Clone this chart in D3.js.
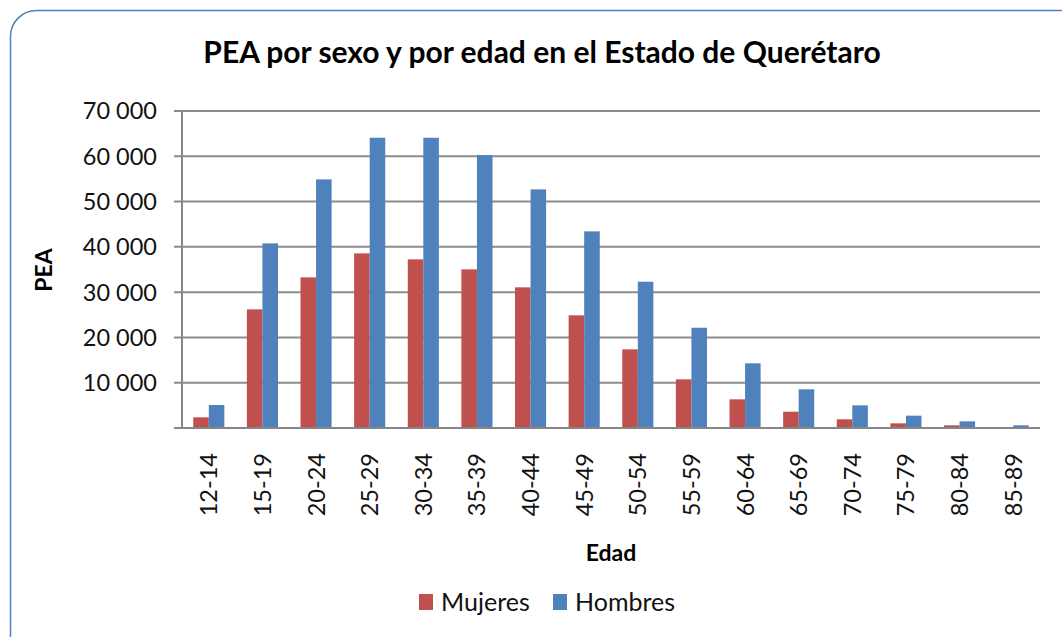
<!DOCTYPE html>
<html>
<head>
<meta charset="utf-8">
<script src="https://cdn.jsdelivr.net/npm/d3@7"></script>
<style>
  body { margin: 0; background: #fff; }
  svg { display: block; font-family: Lato, 'Open Sans', sans-serif; }
</style>
</head>
<body>
<svg id="chart" width="1062" height="637"></svg>
<script>
(function() {
  'use strict';

  // Data
  const ages = ['12-14', '15-19', '20-24', '25-29', '30-34', '35-39', '40-44', '45-49',
    '50-54', '55-59', '60-64', '65-69', '70-74', '75-79', '80-84', '85-89'];
  const mujeres = [2360, 26200, 33260, 38560, 37240, 35030, 31060, 24880,
    17370, 10750, 6330, 3600, 1920, 1030, 590, 220];
  const hombres = [5080, 40770, 54900, 64090, 64090, 60260, 52690, 43420,
    32300, 22140, 14280, 8540, 5000, 2720, 1470, 590];
  const yTicks = [10000, 20000, 30000, 40000, 50000, 60000, 70000];
  const seriesNames = ['Mujeres', 'Hombres'];
  const seriesColors = ['#C0504D', '#4F81BD'];

  let svg = d3.select('#chart');

  // Outer frame
  svg.append('rect')
    .attr('x', 10.5).attr('y', 10.5)
    .attr('width', 1090).attr('height', 660)
    .attr('rx', 26).attr('ry', 26)
    .style('fill', 'none')
    .style('stroke', '#4F7EBD')
    .style('stroke-width', 1.5);

  let left = 182, right = 1040, top = 111, bottom = 428;

  let x = d3.scaleBand().domain(ages).range([left, right]).paddingInner(0.42).paddingOuter(0.21);
  let x1 = d3.scaleBand().domain(seriesNames).range([0, x.bandwidth()]);
  let y = d3.scaleLinear().domain([0, 70000]).range([bottom, top]);

  // Gridlines
  svg.append('g')
    .selectAll('line')
    .data(yTicks)
    .enter()
    .append('line')
    .attr('x1', left - 8).attr('x2', right)
    .attr('y1', d => y(d)).attr('y2', d => y(d))
    .style('stroke', '#8C8C8C')
    .style('stroke-width', 2);

  // Y axis labels
  let fmt = d => d3.format(',')(d).replace(/,/g, ' ');
  svg.append('g')
    .selectAll('text')
    .data(yTicks)
    .enter()
    .append('text')
    .attr('x', 157)
    .attr('y', d => y(d))
    .attr('dy', '0.36em')
    .style('text-anchor', 'end')
    .style('font-size', '23.5px')
    .style('fill', '#111')
    .text(fmt);

  // Bars
  let groups = svg.append('g')
    .selectAll('g')
    .data(ages.map((a, i) => ({ age: a, values: [mujeres[i], hombres[i]] })))
    .enter()
    .append('g')
    .attr('transform', d => 'translate(' + x(d.age) + ',0)');

  groups.selectAll('rect')
    .data(d => d.values.map((v, i) => ({ name: seriesNames[i], value: v, color: seriesColors[i] })))
    .enter()
    .append('rect')
    .attr('x', d => x1(d.name))
    .attr('y', d => y(d.value))
    .attr('width', x1.bandwidth())
    .attr('height', d => bottom - y(d.value))
    .style('fill', d => d.color);

  // Axes lines
  svg.append('line')
    .attr('x1', left).attr('x2', left)
    .attr('y1', top).attr('y2', bottom)
    .style('stroke', '#868686').style('stroke-width', 2);
  svg.append('line')
    .attr('x1', left - 8).attr('x2', right)
    .attr('y1', bottom).attr('y2', bottom)
    .style('stroke', '#868686').style('stroke-width', 2);

  // X labels rotated
  svg.append('g')
    .selectAll('text')
    .data(ages)
    .enter()
    .append('text')
    .attr('transform', d => 'translate(' + (x(d) + x.bandwidth() / 2) + ',453) rotate(-90)')
    .attr('dy', '0.36em')
    .style('text-anchor', 'end')
    .style('font-size', '23.5px')
    .style('fill', '#111')
    .text(d => d);

  // Title
  svg.append('text')
    .attr('x', 542).attr('y', 63)
    .style('text-anchor', 'middle')
    .style('font-size', '30px')
    .style('font-weight', 'bold')
    .style('fill', '#000')
    .text('PEA por sexo y por edad en el Estado de Querétaro');

  // Axis titles
  svg.append('text')
    .attr('x', 611).attr('y', 561)
    .style('text-anchor', 'middle')
    .style('font-size', '23px')
    .style('font-weight', 'bold')
    .text('Edad');

  svg.append('text')
    .attr('transform', 'translate(52,270) rotate(-90)')
    .style('text-anchor', 'middle')
    .style('font-size', '23px')
    .style('font-weight', 'bold')
    .text('PEA');

  // Legend
  let legendX = [419, 553];
  let legend = svg.append('g')
    .selectAll('g')
    .data(seriesNames)
    .enter()
    .append('g')
    .attr('transform', (d, i) => 'translate(' + legendX[i] + ',594)');

  legend.append('rect')
    .attr('width', 14).attr('height', 16)
    .style('fill', (d, i) => seriesColors[i]);

  legend.append('text')
    .attr('x', 22).attr('y', 17)
    .style('font-size', '25px')
    .style('fill', '#111')
    .text(d => d);
})();
</script>
</body>
</html>
